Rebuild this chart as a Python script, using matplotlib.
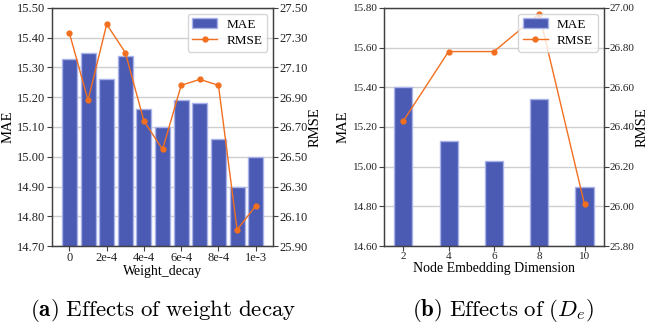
import numpy as np
import matplotlib
matplotlib.use("Agg")
import matplotlib.pyplot as plt
from matplotlib.ticker import FormatStrFormatter

plt.rcParams["font.family"] = ["Liberation Serif", "DejaVu Serif"]
plt.rcParams["mathtext.fontset"] = "cm"

# data
wd_pos = [0, 1, 2, 3, 4, 5, 6, 7, 8, 9, 10]
wd_ticks = [0, 2, 4, 6, 8, 10]
wd_labels = ["0", "2e-4", "4e-4", "6e-4", "8e-4", "1e-3"]
wd_mae = [15.33, 15.35, 15.26, 15.34, 15.16, 15.10, 15.19, 15.18, 15.06, 14.90, 15.00]
wd_rmse = [27.33, 26.88, 27.39, 27.20, 26.74, 26.55, 26.98, 27.02, 26.98, 26.01, 26.17]

dim = [2, 4, 6, 8, 10]
dim_mae = [15.40, 15.13, 15.03, 15.34, 14.90]
dim_rmse = [26.43, 26.78, 26.78, 26.97, 26.01]

bar_c = "#4b5ab3"
edge_c = "#a9b3ea"
line_c = "#f26f1f"
spine_c = "#404040"

fig = plt.figure(figsize=(6.49, 3.29), dpi=100)
ax1 = fig.add_axes([0.080, 0.252, 0.341, 0.724])
ax3 = fig.add_axes([0.592, 0.252, 0.338, 0.724])


def panel(ax, x, mae, rmse, ylim1, yt1, ylim2, yt2, xlabel, tsize):
    ax.bar(x, mae, width=0.8, color=bar_c, edgecolor=edge_c, linewidth=1.0,
           label="MAE", zorder=2)
    ax.set_ylim(*ylim1)
    ax.set_yticks(yt1)
    ax.yaxis.set_major_formatter(FormatStrFormatter("%.2f"))
    ax.grid(axis="y", color="#cfcfcf", linewidth=1.0, zorder=0)
    ax.set_axisbelow(True)
    ax.set_ylabel("MAE", fontsize=10.5, labelpad=2)
    ax.set_xlabel(xlabel, fontsize=10, labelpad=0.5)
    ax2 = ax.twinx()
    ax2.plot(x, rmse, color=line_c, marker="o", markersize=3.5, linewidth=1.0,
             label="RMSE")
    ax2.set_ylim(*ylim2)
    ax2.set_yticks(yt2)
    ax2.yaxis.set_major_formatter(FormatStrFormatter("%.2f"))
    ax2.set_ylabel("RMSE", fontsize=10.5, labelpad=0.5)
    for a in (ax, ax2):
        a.tick_params(labelsize=tsize, colors="#222222", length=3.5, width=0.8,
                      color=spine_c, pad=1)
        for s in a.spines.values():
            s.set_color(spine_c)
            s.set_linewidth(0.9)
    h1, l1 = ax.get_legend_handles_labels()
    h2, l2 = ax2.get_legend_handles_labels()
    ax2.legend(h1 + h2, l1 + l2, loc="upper right", fontsize=9.5,
               framealpha=0.8, borderpad=0.35, handlelength=1.9,
               handletextpad=0.7, borderaxespad=0.45, labelspacing=0.3)
    return ax2


panel(ax1, wd_pos, wd_mae, wd_rmse, (14.70, 15.50), np.arange(14.70, 15.501, 0.1),
      (25.90, 27.50), np.arange(25.90, 27.501, 0.2), "Weight_decay", 9.0)
ax1.set_xticks(wd_ticks)
ax1.set_xticklabels(wd_labels)

panel(ax3, dim, dim_mae, dim_rmse, (14.60, 15.80), np.arange(14.60, 15.801, 0.2),
      (25.80, 27.00), np.arange(25.80, 27.001, 0.2), "Node Embedding Dimension", 8.0)
ax3.set_xticks(dim)

fig.text(0.251, 0.055, r"$\mathbf{(a)}\ \mathrm{Effects\ of\ weight\ decay}$",
         ha="center", va="center", fontsize=16.5)
fig.text(0.775, 0.055, r"$\mathbf{(b)}\ \mathrm{Effects\ of}\ (D_e)$",
         ha="center", va="center", fontsize=16.5)

fig.savefig("out.png", dpi=100)
